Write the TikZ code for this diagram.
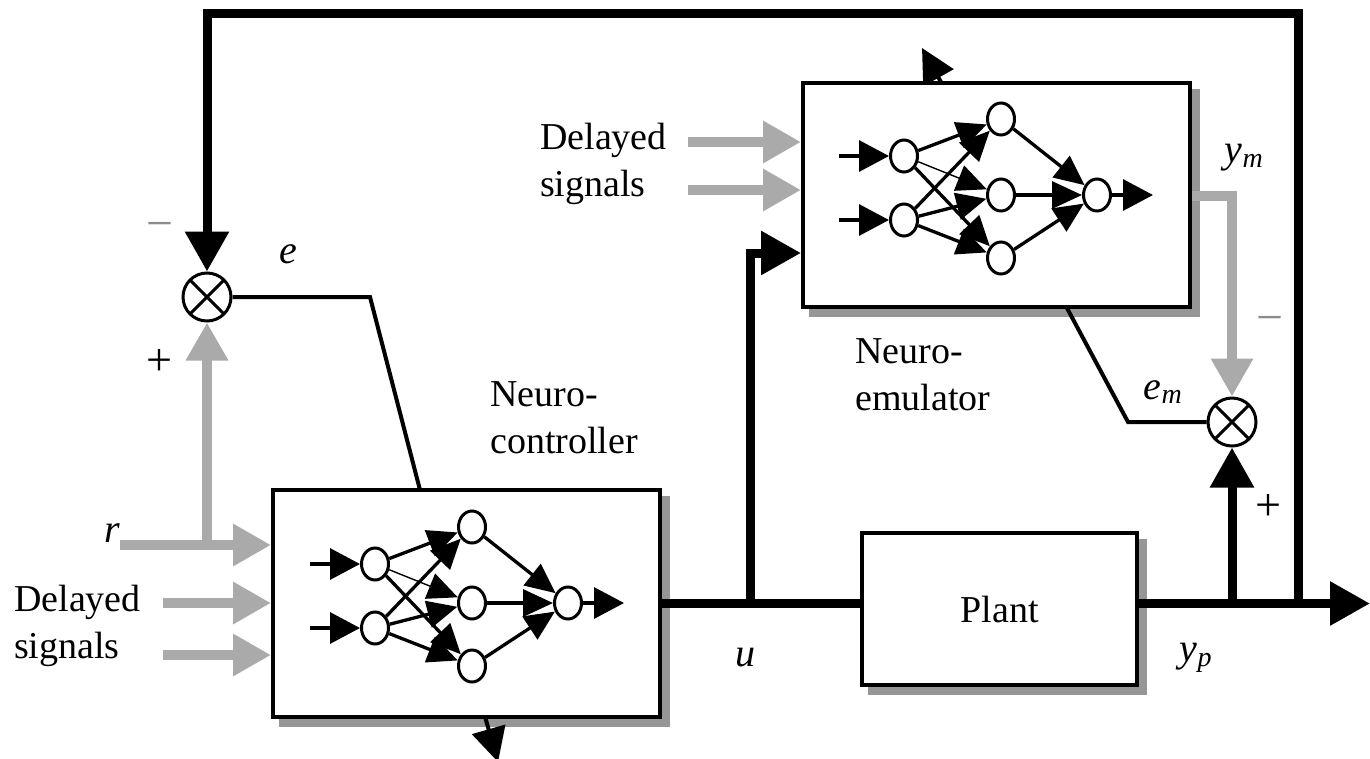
\documentclass[tikz,border=0pt]{standalone}
\usepackage{fontspec}
\usepackage{graphicx}
\setmainfont{Liberation Serif}
\usetikzlibrary{arrows.meta,shapes.geometric}
\pgfdeclarelayer{shadowlayer}
\pgfdeclarelayer{bg}
\pgfsetlayers{shadowlayer,bg,main}
\definecolor{sig}{RGB}{170,170,170}
\definecolor{shad}{RGB}{150,150,150}
\definecolor{minusgray}{RGB}{140,140,140}
\newcommand{\drawnet}[3]{%
  \begin{scope}[shift={(#2,#3)}]
    \node[neuron] (#1i1) at (-193,-39) {};
    \node[neuron] (#1i2) at (-193,25) {};
    \node[neuron] (#1h1) at (-96,-76) {};
    \node[neuron] (#1h2) at (-96,0) {};
    \node[neuron] (#1h3) at (-96,63) {};
    \node[neuron] (#1o) at (0,0) {};
    \coordinate (#1a1) at (-258,-39);
    \coordinate (#1a2) at (-258,25);
    \coordinate (#1out) at (56,0);
  \end{scope}
  \draw[syn,intip] (#1a1) -- (#1i1);
  \draw[syn,intip] (#1a2) -- (#1i2);
  \draw[syn] (#1i1) -- (#1h1);
  \draw[thinsyn] (#1i1) -- (#1h2);
  \draw[syn] (#1i1) -- (#1h3);
  \draw[syn] (#1i2) -- (#1h1);
  \draw[syn] (#1i2) -- (#1h2);
  \draw[syn] (#1i2) -- (#1h3);
  \draw[syn] (#1h1) -- (#1o);
  \draw[syn] (#1h2) -- (#1o);
  \draw[syn] (#1h3) -- (#1o);
  \draw[syn,intip] (#1o) -- (#1out);
}
\begin{document}
\begin{tikzpicture}[x=1pt,y=-1pt,
  txt/.style={font=\fontsize{38}{47}\selectfont, inner sep=0pt},
  lab/.style={font=\fontsize{40}{47}\selectfont\itshape, inner sep=0pt},
  signlab/.style={inner sep=0pt},
  blk/.style={draw=black,line width=4pt,fill=white},
  bus/.style={line width=9pt,black},
  bigtip/.style={-{Triangle[length=40pt,width=42pt]}},
  grayarr/.style={line width=10pt,sig,-{Triangle[length=38pt,width=40pt]}},
  eline/.style={line width=4pt,black},
  etip/.style={-{Triangle[length=34pt,width=34pt]}},
  neuron/.style={ellipse,draw,line width=3pt,fill=white,minimum width=27pt,minimum height=32pt,inner sep=0pt},
  syn/.style={line width=3.3pt,-{Triangle[length=30pt,width=27pt]}},
  intip/.style={-{Triangle[length=30pt,width=31pt]}},
  thinsyn/.style={line width=1.4pt,-{Triangle[length=30pt,width=27pt]}},
  sumj/.style={circle,draw,line width=3pt,fill=white,minimum size=48pt,inner sep=0pt,
    path picture={\draw[line width=3pt]
      (path picture bounding box.north west) -- (path picture bounding box.south east)
      (path picture bounding box.north east) -- (path picture bounding box.south west);}}
]
\useasboundingbox (0,0) rectangle (1370,758);

% blocks
\node[blk,minimum width=387pt,minimum height=227pt] (ctrl) at (466.5,603.5) {};
\node[blk,minimum width=387pt,minimum height=224pt] (emu) at (996.5,195) {};
\node[blk,minimum width=275pt,minimum height=152pt,font=\fontsize{38}{47}\selectfont] (plant) at (999.5,609) {Plant};

% shadows
\begin{pgfonlayer}{shadowlayer}
  \foreach \b in {ctrl,emu,plant}
    \fill[shad] ([shift={(8,8)}]\b.north west) rectangle ([shift={(8,8)}]\b.south east);
\end{pgfonlayer}

% summing junctions
\node[sumj] (sum1) at (207,297) {};
\node[sumj] (sum2) at (1232,422) {};

% networks
\drawnet{c}{568}{603}
\drawnet{m}{1097}{195}

% coordinates
\coordinate (uj) at (750,603.5);
\coordinate (yj) at (1232,603.5);
\coordinate (fj) at (1298,603.5);
\coordinate (outend) at (1370,603.5);
\coordinate (rstart) at (120,545);
\coordinate (rj) at (207,545);
\coordinate (d1) at (163,603);
\coordinate (d2) at (163,655);
\coordinate (d3) at (688,142);
\coordinate (d4) at (688,190);
\coordinate (ek1) at (370,297);
\coordinate (ek2) at (420,490);
\coordinate (etip1) at (498,762);
\coordinate (mk1) at (1128,422);
\coordinate (mk2) at (1068,310);
\coordinate (mtip1) at (922,48);
\coordinate (ftop) at (1298,13);

% error lines through the networks (hidden beneath the boxes)
\begin{pgfonlayer}{bg}
  \draw[eline,etip] (sum1.east) -- (ek1) -- (ek2) -- (etip1);
  \draw[eline,etip] (sum2.west) -- (mk1) -- (mk2) -- (mtip1);
\end{pgfonlayer}

% signal buses
\draw[bus] (ctrl.east) -- (ctrl.east -| plant.west);
\draw[bus,bigtip] (uj) |- (emu.west |- 0,253);
\draw[bus,bigtip] (plant.east |- outend) -- (outend);
\draw[bus,bigtip] (yj) -- (sum2.south);
\draw[bus,bigtip] (fj) -- (ftop) -| (sum1.north);

% gray signals
\draw[grayarr] (rstart) -- (ctrl.west |- rstart);
\draw[grayarr] (rj) -- (sum1.south);
\draw[grayarr] (d1) -- (ctrl.west |- d1);
\draw[grayarr] (d2) -- (ctrl.west |- d2);
\draw[grayarr] (d3) -- (emu.west |- d3);
\draw[grayarr] (d4) -- (emu.west |- d4);
\draw[grayarr] (emu.east |- 0,196) -| (sum2.north);

% texts
\node[txt,align=left,anchor=west] (ds1) at (14,626) {Delayed\\signals};
\node[txt,align=left,anchor=west] (ds2) at (540,164) {Delayed\\signals};
\node[txt,align=left,anchor=west] (nc) at (490,418) {Neuro-\\controller};
\node[txt,align=left,anchor=west] (ne) at (855,375) {Neuro-\\emulator};

% labels
\node[lab] (le) at (288,254) {e};
\node[lab] (lr) at (112,533) {r};
\node[lab] (lu) at (745,658) {u};
\node[lab] (lym) at (1244,158) {y\textsubscript{m}};
\node[lab] (lem) at (1163,392) {e\textsubscript{m}};
\node[lab] (lyp) at (1196,658) {y\textsubscript{p}};
\node[signlab,text=minusgray] (s1) at (160,231) {\resizebox{27pt}{!}{−}};
\node[signlab] (s2) at (160,362) {\resizebox{26pt}{!}{+}};
\node[signlab,text=minusgray] (s3) at (1270,325) {\resizebox{27pt}{!}{−}};
\node[signlab] (s4) at (1268,507) {\resizebox{26pt}{!}{+}};
\end{tikzpicture}
\end{document}
